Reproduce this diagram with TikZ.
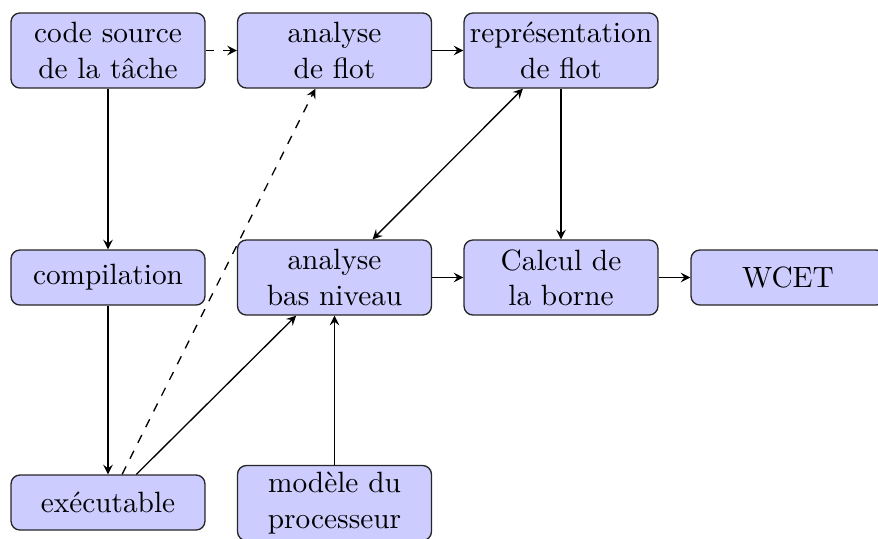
\documentclass[tikz,border=0pt]{standalone}
\usetikzlibrary{arrows}
\begin{document}
\begin{tikzpicture}[x=0.3408pt,y=-0.3408pt,
  box/.style={draw=black!85, fill=blue!20, rounded corners=3pt, align=center,
    minimum width=66.1pt, inner sep=1.5pt, line width=0.45pt},
  tall/.style={box, minimum height=25.56pt},
  short/.style={box, minimum height=18.74pt},
  link/.style={-stealth, line width=0.45pt},
  every node/.style={font=\fontsize{10}{12}\selectfont}]
\clip (0,0) rectangle (878,538);
\useasboundingbox (0,0) rectangle (878,538);

% top row
\node[tall] (src) at (108,50.5) {code source\\de la tâche};
\node[tall] (flow) at (334.5,50.5) {analyse\\de flot};
\node[tall] (rep) at (561,50.5) {représentation\\de flot};

% middle row
\node[short] (comp) at (108,277.5) {compilation};
\node[tall] (low) at (334.5,277.5) {analyse\\bas niveau};
\node[tall] (bound) at (561,277.5) {Calcul de\\la borne};
\node[short] (wcet) at (788,277.5) {WCET};

% bottom row
\node[short] (exe) at (108,502.5) {exécutable};
\node[tall] (proc) at (334.5,503) {modèle du\\processeur};

% connectors
\draw[link, dashed] (src) -- (flow);
\draw[link] (flow) -- (rep);
\draw[link] (src) -- (comp);
\draw[link] (comp) -- (exe);
\draw[link, dashed] (exe) -- (flow);
\draw[link] (exe) -- (low);
\draw[link] (proc) -- (low);
\draw[stealth-stealth, line width=0.45pt] (low) -- (rep);
\draw[link] (rep) -- (bound);
\draw[link] (low) -- (bound);
\draw[link] (bound) -- (wcet);
\end{tikzpicture}
\end{document}
